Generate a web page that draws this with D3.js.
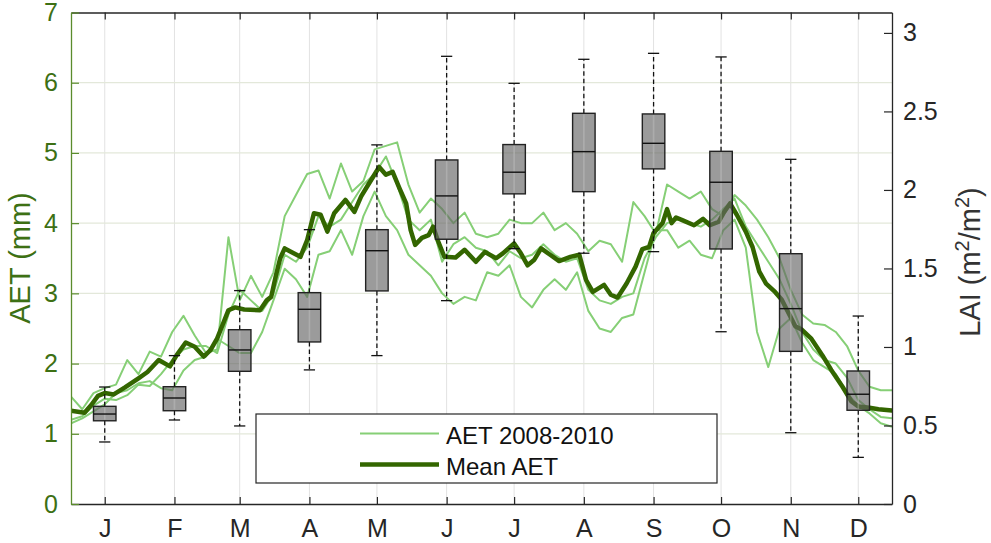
<!DOCTYPE html>
<html>
<head>
<meta charset="utf-8">
<script src="https://cdn.jsdelivr.net/npm/d3@7"></script>
<style>
  body { margin: 0; background: #fff; }
  svg { display: block; font-family: "Liberation Sans", Arial, Helvetica, sans-serif; }
</style>
</head>
<body>
<svg id="chart" width="991" height="543"></svg>
<script>
// month ticks (day of year, mid month)
const months = ["J", "F", "M", "A", "M", "J", "J", "A", "S", "O", "N", "D"];
const monthDays = [15, 46, 75, 106, 136, 167, 197, 228, 259, 289, 320, 350];

// LAI box statistics per month
const laiLow = [0.395, 0.535, 0.497, 0.854, 0.945, 1.295, 1.626, 1.597, 1.607, 1.097, 0.454, 0.297];
const laiQ1 = [0.530, 0.594, 0.845, 1.032, 1.357, 1.686, 1.975, 1.989, 2.134, 1.624, 0.972, 0.597];
const laiMed = [0.573, 0.675, 0.981, 1.240, 1.613, 1.962, 2.113, 2.244, 2.297, 2.049, 1.244, 0.699];
const laiQ3 = [0.622, 0.747, 1.110, 1.346, 1.747, 2.191, 2.289, 2.488, 2.484, 2.246, 1.594, 0.847];
const laiHigh = [0.745, 0.945, 1.359, 1.747, 2.287, 2.851, 2.679, 2.832, 2.870, 2.847, 2.195, 1.197];

// yearly AET, every 5 days
const aetDays = [0, 5, 10, 15, 20, 25, 30, 35, 40, 45, 50, 55, 60, 65, 70, 75, 80, 85, 90, 95,
  100, 105, 110, 115, 120, 125, 130, 135, 140, 145, 150, 155, 160, 165, 170, 175, 180, 185, 190, 195,
  200, 205, 210, 215, 220, 225, 230, 235, 240, 245, 250, 255, 260, 265, 270, 275, 280, 285, 290, 295,
  300, 305, 310, 315, 320, 325, 330, 335, 340, 345, 350, 355, 360, 365];
const aet2008 = [1.53, 1.35, 1.58, 1.65, 1.70, 2.05, 1.85, 2.17, 2.10, 2.45, 2.68, 2.40, 2.15, 2.20, 3.80, 2.90, 3.25, 2.95, 3.30, 4.10,
  4.40, 4.70, 4.75, 4.35, 4.85, 4.45, 4.60, 5.05, 5.10, 5.15, 4.55, 4.15, 4.35, 4.20, 4.00, 4.15, 3.85, 3.80, 3.85, 4.05,
  4.00, 4.00, 4.15, 3.90, 4.00, 3.85, 3.60, 3.75, 3.70, 3.45, 4.30, 4.10, 3.85, 4.55, 4.45, 4.35, 4.45, 4.20, 4.10, 4.40,
  4.25, 4.05, 3.80, 3.50, 3.05, 2.70, 2.57, 2.55, 2.45, 2.25, 1.90, 1.67, 1.62, 1.62];
const aet2009 = [1.20, 1.25, 1.40, 1.50, 1.48, 1.55, 1.70, 1.68, 1.85, 2.05, 2.20, 2.25, 2.25, 2.15, 2.70, 3.05, 2.90, 2.75, 3.00, 3.55,
  3.45, 3.65, 4.10, 3.95, 4.05, 4.30, 4.55, 4.70, 4.95, 4.55, 4.05, 3.90, 4.05, 3.45, 3.70, 3.80, 3.65, 3.60, 3.40, 3.60,
  3.50, 3.55, 3.70, 3.55, 3.45, 3.50, 3.05, 2.90, 2.85, 2.95, 3.00, 3.50, 3.80, 4.00, 4.05, 4.00, 3.95, 4.05, 4.20, 4.35,
  3.95, 3.70, 3.45, 3.20, 2.85, 2.45, 2.20, 2.05, 2.00, 1.80, 1.48, 1.35, 1.24, 1.22];
const aet2010 = [1.15, 1.22, 1.32, 1.42, 1.58, 1.62, 1.72, 1.75, 1.65, 1.62, 1.90, 2.05, 2.10, 2.35, 2.25, 2.15, 2.15, 2.45, 2.90, 3.35,
  3.20, 2.95, 3.55, 3.60, 3.90, 3.55, 4.10, 4.45, 4.10, 3.90, 3.55, 3.40, 3.25, 3.00, 2.85, 2.95, 2.90, 3.30, 3.25, 3.40,
  2.95, 2.80, 3.05, 3.20, 3.05, 3.30, 2.75, 2.50, 2.45, 2.65, 2.70, 3.30, 3.90, 3.90, 3.65, 3.75, 3.55, 3.50, 3.90, 4.05,
  3.65, 2.45, 1.95, 2.50, 2.65, 2.30, 2.05, 1.95, 1.85, 1.58, 1.40, 1.29, 1.15, 1.10];

// mean AET
const meanDays = [0, 6, 9, 12, 15, 19, 24, 30, 34, 39, 44, 47, 51, 55, 59, 62, 65, 70, 73, 77,
  84, 87, 89, 91, 93, 95, 99, 102, 105, 108, 111, 114, 117, 122, 126, 129, 132, 137, 140, 143,
  146, 149, 151, 153, 156, 159, 161, 163, 166, 171, 175, 180, 184, 189, 192, 197, 200, 203, 206, 209,
  213, 217, 222, 226, 229, 232, 237, 240, 243, 247, 251, 254, 257, 259, 263, 265, 267, 269, 272, 277,
  281, 284, 288, 290, 293, 296, 300, 303, 306, 309, 313, 316, 319, 322, 325, 329, 334, 338, 343, 347,
  350, 355, 359, 365];
const meanAet = [1.33, 1.30, 1.41, 1.54, 1.58, 1.56, 1.66, 1.79, 1.88, 2.05, 1.96, 2.12, 2.30, 2.24, 2.10, 2.19, 2.36, 2.76, 2.80, 2.77,
  2.76, 2.90, 2.95, 3.24, 3.50, 3.64, 3.57, 3.52, 3.76, 4.14, 4.12, 3.88, 4.14, 4.33, 4.16, 4.38, 4.54, 4.80, 4.69, 4.73,
  4.50, 4.28, 3.90, 3.69, 3.79, 3.83, 3.95, 3.76, 3.52, 3.51, 3.62, 3.45, 3.59, 3.50, 3.57, 3.71, 3.57, 3.40, 3.48, 3.64,
  3.55, 3.46, 3.52, 3.55, 3.19, 3.02, 3.12, 2.98, 2.94, 3.14, 3.38, 3.63, 3.66, 3.86, 4.00, 4.20, 4.00, 4.08, 4.04, 3.97,
  4.06, 3.97, 4.02, 4.14, 4.28, 4.12, 3.88, 3.66, 3.31, 3.14, 3.02, 2.91, 2.72, 2.53, 2.48, 2.36, 2.12, 1.91, 1.67, 1.46,
  1.39, 1.37, 1.35, 1.33];

const aetTicks = [0, 1, 2, 3, 4, 5, 6, 7];
const laiTicks = [0, 0.5, 1, 1.5, 2, 2.5, 3];

const green = "#3d7014";
const greenAxis = "#5a8c2c";
const darkGreen = "#336600";
const lightGreen = "#86cf76";
const axisGray = "#262626";

const svg = d3.select("#chart");
const margin = {top: 12.5, right: 99, bottom: 39, left: 71};
const width = 991 - margin.left - margin.right;
const height = 543 - margin.top - margin.bottom;
const g = svg.append("g").attr("transform", `translate(${margin.left}, ${margin.top})`);

const x = d3.scaleLinear().domain([0, 365]).range([0, width]);
const yAet = d3.scaleLinear().domain([0, 7]).range([height, 0]);
const yLai = d3.scaleLinear().domain([0, 3.13]).range([height, 0]);

svg.append("defs").append("clipPath").attr("id", "plot-clip")
  .append("rect").attr("width", width).attr("height", height);

// grid
g.append("g").selectAll("line").data(monthDays).join("line")
  .attr("x1", d => x(d)).attr("x2", d => x(d))
  .attr("y1", 0).attr("y2", height)
  .attr("stroke", "#e2e2e2").attr("stroke-width", 1);
g.append("g").selectAll("line").data(aetTicks.slice(1, -1)).join("line")
  .attr("x1", 0).attr("x2", width)
  .attr("y1", d => yAet(d)).attr("y2", d => yAet(d))
  .attr("stroke", "#e3e8da").attr("stroke-width", 1.2);

// AET lines
const lines = g.append("g").attr("clip-path", "url(#plot-clip)");
const yearLine = d3.line().x((d, i) => x(aetDays[i])).y(d => yAet(d));
lines.selectAll(".year").data([aet2008, aet2009, aet2010]).join("path")
  .attr("class", "year")
  .attr("d", yearLine)
  .attr("fill", "none").attr("stroke", lightGreen).attr("stroke-width", 2)
  .attr("stroke-linejoin", "round");

const meanLine = d3.line().x((d, i) => x(meanDays[i])).y(d => yAet(d));
lines.append("path").datum(meanAet)
  .attr("d", meanLine)
  .attr("fill", "none").attr("stroke", darkGreen).attr("stroke-width", 4.5)
  .attr("stroke-linejoin", "round").attr("stroke-linecap", "round");

// LAI boxplots
const boxW = x(10) - x(0);
const capW = x(5) - x(0);
const boxes = g.append("g").selectAll("g").data(monthDays).join("g");
boxes.append("line")
  .attr("x1", d => x(d)).attr("x2", d => x(d))
  .attr("y1", (d, i) => yLai(laiQ3[i])).attr("y2", (d, i) => yLai(laiHigh[i]))
  .attr("stroke", "#111").attr("stroke-width", 1.3).attr("stroke-dasharray", "4.5,3");
boxes.append("line")
  .attr("x1", d => x(d)).attr("x2", d => x(d))
  .attr("y1", (d, i) => yLai(laiQ1[i])).attr("y2", (d, i) => yLai(laiLow[i]))
  .attr("stroke", "#111").attr("stroke-width", 1.3).attr("stroke-dasharray", "4.5,3");
boxes.append("line")
  .attr("x1", d => x(d) - capW / 2).attr("x2", d => x(d) + capW / 2)
  .attr("y1", (d, i) => yLai(laiHigh[i])).attr("y2", (d, i) => yLai(laiHigh[i]))
  .attr("stroke", "#111").attr("stroke-width", 1.3);
boxes.append("line")
  .attr("x1", d => x(d) - capW / 2).attr("x2", d => x(d) + capW / 2)
  .attr("y1", (d, i) => yLai(laiLow[i])).attr("y2", (d, i) => yLai(laiLow[i]))
  .attr("stroke", "#111").attr("stroke-width", 1.3);
boxes.append("rect")
  .attr("x", d => x(d) - boxW / 2).attr("width", boxW)
  .attr("y", (d, i) => yLai(laiQ3[i]))
  .attr("height", (d, i) => yLai(laiQ1[i]) - yLai(laiQ3[i]))
  .attr("fill", "#666").attr("fill-opacity", 0.65)
  .attr("stroke", "#222").attr("stroke-width", 1.4);
boxes.append("line")
  .attr("x1", d => x(d)).attr("x2", d => x(d))
  .attr("y1", (d, i) => yLai(laiQ3[i]) + 1).attr("y2", (d, i) => yLai(laiQ1[i]) - 1)
  .attr("stroke", "#fff").attr("stroke-opacity", 0.25).attr("stroke-width", 1.5);
boxes.append("line")
  .attr("x1", d => x(d) - boxW / 2).attr("x2", d => x(d) + boxW / 2)
  .attr("y1", (d, i) => yLai(laiMed[i])).attr("y2", (d, i) => yLai(laiMed[i]))
  .attr("stroke", "#111").attr("stroke-width", 1.4);

// axes
const styleAxis = (sel, color, textColor) => {
  sel.select(".domain").attr("stroke", color).attr("stroke-width", 1.3);
  sel.selectAll(".tick line").attr("stroke", color).attr("stroke-width", 1.2);
  sel.selectAll(".tick text").attr("fill", textColor)
    .attr("font-size", 25).attr("font-family", "Liberation Sans, Arial, sans-serif");
};

g.append("g")
  .attr("transform", `translate(0, ${height})`)
  .call(d3.axisBottom(x).tickValues(monthDays).tickFormat((d, i) => months[i])
    .tickSize(-7).tickSizeOuter(0).tickPadding(15))
  .call(sel => styleAxis(sel, axisGray, axisGray));

g.append("g")
  .call(d3.axisTop(x).tickValues(monthDays).tickFormat("")
    .tickSize(-7).tickSizeOuter(0))
  .call(sel => styleAxis(sel, axisGray, axisGray));

g.append("g")
  .call(d3.axisLeft(yAet).tickValues(aetTicks).tickFormat(d3.format("d"))
    .tickSize(-8).tickSizeOuter(0).tickPadding(13))
  .call(sel => styleAxis(sel, greenAxis, green));

g.append("g")
  .attr("transform", `translate(${width}, 0)`)
  .call(d3.axisRight(yLai).tickValues(laiTicks).tickFormat(d3.format("~g"))
    .tickSize(-8).tickSizeOuter(0).tickPadding(11))
  .call(sel => styleAxis(sel, axisGray, axisGray));

// axis titles
svg.append("text")
  .attr("transform", "translate(30, 258) rotate(-90)")
  .attr("text-anchor", "middle")
  .attr("font-size", 29).attr("fill", green)
  .text("AET (mm)");

const laiTitle = svg.append("text")
  .attr("transform", "translate(980, 262) rotate(-90)")
  .attr("text-anchor", "middle")
  .attr("font-size", 29).attr("fill", "#333");
laiTitle.append("tspan").text("LAI (m");
laiTitle.append("tspan").attr("font-size", 20).attr("dy", -11).text("2");
laiTitle.append("tspan").attr("dy", 11).text("/m");
laiTitle.append("tspan").attr("font-size", 20).attr("dy", -11).text("2");
laiTitle.append("tspan").attr("dy", 11).text(")");

// legend
const legend = svg.append("g").attr("transform", "translate(256, 414)");
legend.append("rect")
  .attr("width", 461).attr("height", 69)
  .attr("fill", "#fff").attr("stroke", "#262626").attr("stroke-width", 1.2);
const legendItems = [
  {label: "AET 2008-2010", color: lightGreen, w: 2},
  {label: "Mean AET", color: darkGreen, w: 4.5}
];
const li = legend.selectAll(".item").data(legendItems).join("g")
  .attr("class", "item")
  .attr("transform", (d, i) => `translate(0, ${19.5 + i * 31})`);
li.append("line")
  .attr("x1", 104).attr("x2", 183)
  .attr("stroke", d => d.color).attr("stroke-width", d => d.w);
li.append("text")
  .attr("x", 190).attr("y", 10)
  .attr("font-size", 24).attr("fill", "#111")
  .text(d => d.label);
</script>
</body>
</html>
